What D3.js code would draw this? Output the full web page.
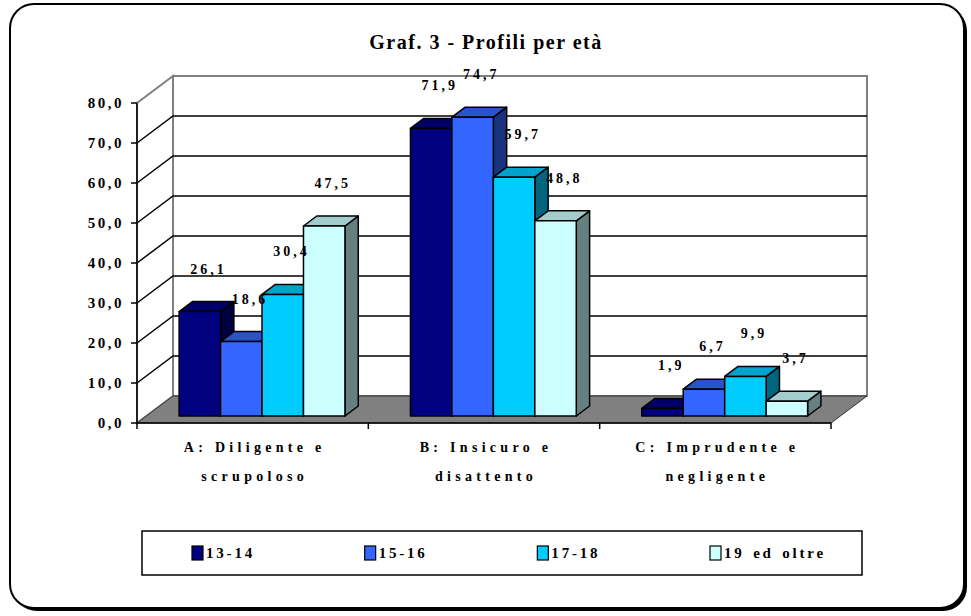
<!DOCTYPE html>
<html>
<head>
<meta charset="utf-8">
<script src="https://cdn.jsdelivr.net/npm/d3@7/dist/d3.min.js"></script>
<style>
  body { margin: 0; background: #fff; }
  svg text { font-family: "Liberation Serif", "Times New Roman", serif; font-weight: bold; }
</style>
</head>
<body>
<div id="chart"></div>
<script>
// data
var categories = ["A", "B", "C"];
var categoryLines = [["A: Diligente e", "scrupoloso"], ["B: Insicuro e", "disattento"], ["C: Imprudente e", "negligente"]];
var series = ["13-14", "15-16", "17-18", "19 ed oltre"];
var v1314 = [26.1, 71.9, 1.9];
var v1516 = [18.6, 74.7, 6.7];
var v1718 = [30.4, 59.7, 9.9];
var v19 = [47.5, 48.8, 3.7];
var seriesValues = [v1314, v1516, v1718, v19];
var yTicks = [0, 10, 20, 30, 40, 50, 60, 70, 80];
var fronts = ["#000080", "#3366ff", "#00ccff", "#ccffff"];
var tops = ["#000066", "#2952cc", "#00a3cc", "#a3cccc"];
var sides = ["#000040", "#1a3380", "#006680", "#668080"];

var W = 971, H = 616;
var left = 137, right = 831, base = 423;
var depth = { x: 36, y: -27 };
var barZ0 = 0.26, barZ1 = 0.63;

var svg = d3.select('#chart').append('svg')
    .attr('width', W).attr('height', H)
    .attr('font-family', '"Liberation Serif", serif').attr('font-weight', 'bold');

// frame with shadow
svg.append('rect').attr('x', 13).attr('y', 7).attr('width', 954).attr('height', 604)
    .attr('rx', 24).attr('fill', '#000');
svg.append('rect').attr('x', 10).attr('y', 4).attr('width', 954).attr('height', 604)
    .attr('rx', 24).attr('fill', '#fff').attr('stroke', '#000').attr('stroke-width', 2);

svg.append('text').attr('x', 486).attr('y', 49).attr('text-anchor', 'middle')
    .style('font-size', '20px').style('letter-spacing', '1.5px').text('Graf. 3 - Profili per età');

var y = d3.scaleLinear().domain([0, 80]).range([base, base - 320]);
var x0 = d3.scaleBand().domain(categories).range([left, right]);
var x1 = d3.scaleBand().domain(series).range([0, x0.bandwidth()])
    .paddingInner(0).paddingOuter(0.79);

// project point (x at front, y at front, z depth fraction)
function P(px, py, z) {
    return [px + depth.x * z, py + depth.y * z];
}
function poly(pts) {
    return 'M' + pts.map(function (p) { return p[0] + ',' + p[1]; }).join('L') + 'Z';
}

// back wall
var bw = [P(left, y(80), 1), P(right, y(80), 1), P(right, y(0), 1), P(left, y(0), 1)];
svg.append('path').attr('d', poly(bw)).attr('fill', '#fff').attr('stroke', '#808080').attr('stroke-width', 2);
svg.append('path').attr('d', poly([P(left, y(80), 0), P(left, y(80), 1), P(left, y(0), 1), P(left, y(0), 0)]))
    .attr('fill', '#fff').attr('stroke', '#808080').attr('stroke-width', 2);

// gridlines
var grid = svg.append('g').attr('stroke', '#000').attr('stroke-width', 1.5).attr('fill', 'none');
yTicks.filter(function (t) { return t > 0 && t < 80; }).forEach(function (t) {
    var a = P(left, y(t), 0), b = P(left, y(t), 1), c = P(right, y(t), 1);
    grid.append('path').attr('d', 'M' + a + 'L' + b + 'L' + c);
});

// floor
svg.append('path').attr('d', poly([P(left, y(0), 0), P(left, y(0), 1), P(right, y(0), 1), P(right, y(0), 0)]))
    .attr('fill', '#808080').attr('stroke', '#333').attr('stroke-width', 1);

// axes
var ax = svg.append('g').attr('stroke', '#000').attr('stroke-width', 1.5);
ax.append('line').attr('x1', left).attr('x2', left).attr('y1', y(80)).attr('y2', y(0));
ax.append('line').attr('x1', left).attr('x2', right).attr('y1', y(0)).attr('y2', y(0));
yTicks.forEach(function (t) {
    ax.append('line').attr('x1', left - 6).attr('x2', left).attr('y1', y(t)).attr('y2', y(t));
});
x0.domain().concat(['end']).forEach(function (c, i) {
    var xx = left + i * x0.bandwidth();
    ax.append('line').attr('x1', xx).attr('x2', xx).attr('y1', y(0)).attr('y2', y(0) + 6);
});

svg.append('g').selectAll('text').data(yTicks).enter().append('text')
    .attr('x', left - 13).attr('y', function (d) { return y(d) + 5; })
    .attr('text-anchor', 'end').style('font-size', '15px').style('letter-spacing', '2.5px')
    .text(function (d) { return d3.format('.1f')(d).replace('.', ','); });

// category labels
categoryLines.forEach(function (lines, i) {
    var cx = x0(categories[i]) + x0.bandwidth() / 2;
    lines.forEach(function (l, j) {
        svg.append('text').attr('x', cx + 2).attr('y', 452 + j * 29).attr('text-anchor', 'middle')
            .style('font-size', '14px').style('letter-spacing', '4.3px').text(l);
    });
});

// bars
var bars = svg.append('g').attr('stroke', '#000').attr('stroke-width', 1.5).attr('stroke-linejoin', 'round');
var labels = svg.append('g');
categories.forEach(function (c, ci) {
    series.forEach(function (s, si) {
        var v = seriesValues[si][ci];
        var xa = x0(c) + x1(s), xb = xa + x1.bandwidth();
        var yt = y(v), yb = y(0);
        var f = [P(xa, yt, barZ0), P(xb, yt, barZ0), P(xb, yb, barZ0), P(xa, yb, barZ0)];
        var top = [P(xa, yt, barZ0), P(xa, yt, barZ1), P(xb, yt, barZ1), P(xb, yt, barZ0)];
        var side = [P(xb, yt, barZ0), P(xb, yt, barZ1), P(xb, yb, barZ1), P(xb, yb, barZ0)];
        bars.append('path').attr('d', poly(side)).attr('fill', sides[si]);
        bars.append('path').attr('d', poly(top)).attr('fill', tops[si]);
        bars.append('path').attr('d', poly(f)).attr('fill', fronts[si]);
        var lp = P((xa + xb) / 2, yt, (barZ0 + barZ1) / 2);
        labels.append('text').attr('x', lp[0] + 2).attr('y', lp[1] - 33)
            .attr('text-anchor', 'middle').style('font-size', '14px').style('letter-spacing', '3px')
            .text(String(v).replace('.', ','));
    });
});

// legend
var lg = svg.append('g');
lg.append('rect').attr('x', 142).attr('y', 531).attr('width', 720).attr('height', 44)
    .attr('fill', '#fff').attr('stroke', '#000').attr('stroke-width', 1.5);
var lx = d3.scalePoint().domain(series).range([192, 710]);
series.forEach(function (s, i) {
    lg.append('rect').attr('x', lx(s)).attr('y', 546).attr('width', 11).attr('height', 14)
        .attr('fill', fronts[i]).attr('stroke', '#000').attr('stroke-width', 1.2);
    lg.append('text').attr('x', lx(s) + 14).attr('y', 558)
        .style('font-size', '15px').style('letter-spacing', '2.8px').style('word-spacing', '2px').text(s);
});
</script>
</body>
</html>
